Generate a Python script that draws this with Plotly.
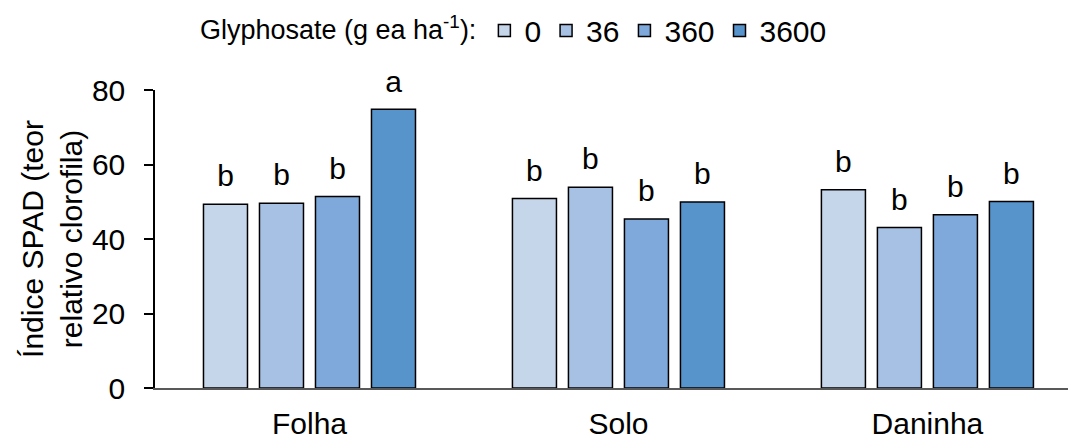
import plotly.graph_objects as go

categories = ["Folha", "Solo", "Daninha"]
doses = ["0", "36", "360", "3600"]
values = {
    "0":    [49.3, 50.9, 53.2],
    "36":   [49.6, 53.9, 43.1],
    "360":  [51.4, 45.4, 46.5],
    "3600": [74.8, 49.9, 50.1],
}
letters = {
    "0":    ["b", "b", "b"],
    "36":   ["b", "b", "b"],
    "360":  ["b", "b", "b"],
    "3600": ["a", "b", "b"],
}
colors = ["#C5D5EA", "#A7C1E5", "#7EA9DA", "#5894CC"]
yticks = [0, 20, 40, 60, 80]

FONT = "Liberation Sans, Arial, sans-serif"

fig = go.Figure()
for d, c in zip(doses, colors):
    fig.add_trace(go.Bar(
        x=categories, y=values[d], name=d, offsetgroup=d,
        marker=dict(color=c, line=dict(color="#000000", width=1.5)),
        hoverinfo="skip",
    ))
for d in doses:
    fig.add_trace(go.Scatter(
        x=categories, y=values[d], offsetgroup=d, mode="markers+text",
        text=letters[d], textposition="top center",
        textfont=dict(family=FONT, size=30, color="#000000"),
        marker=dict(size=15, color="rgba(0,0,0,0)", line=dict(width=0)),
        showlegend=False, hoverinfo="skip", cliponaxis=False,
    ))

fig.update_layout(
    width=1068, height=439,
    margin=dict(l=155, r=0, t=90, b=51),
    paper_bgcolor="white", plot_bgcolor="white",
    barmode="group", bargap=0.275, bargroupgap=0.214,
    scattermode="group", scattergap=0.275,
    font=dict(family=FONT, size=30, color="#000000"),
    legend=dict(
        orientation="h", x=0.047, xanchor="left", y=1.2, yanchor="middle",
        title=dict(text="Glyphosate (g ea ha<sup>-1</sup>):", side="left",
                   font=dict(size=27)),
        font=dict(size=30), bgcolor="rgba(0,0,0,0)", itemwidth=30,
        tracegroupgap=0,
    ),
    showlegend=True,
)
fig.update_xaxes(
    range=[-0.5, 2.455], showline=True, linecolor="#595959", linewidth=1.5,
    ticks="", showgrid=False, zeroline=False, ticklabelstandoff=8,
    tickfont=dict(size=30), automargin=False,
)
fig.update_yaxes(
    range=[0, 80], tickvals=yticks, showline=True, linecolor="#000000",
    linewidth=1.5, ticks="outside", ticklen=9, tickcolor="#000000",
    tickwidth=1.5, showgrid=False, zeroline=False, ticklabelstandoff=13,
    tickfont=dict(size=30), automargin=False,
    title=dict(text="Índice SPAD (teor<br>relativo clorofila)",
               font=dict(size=30), standoff=0),
)

fig.write_html("out.html")
